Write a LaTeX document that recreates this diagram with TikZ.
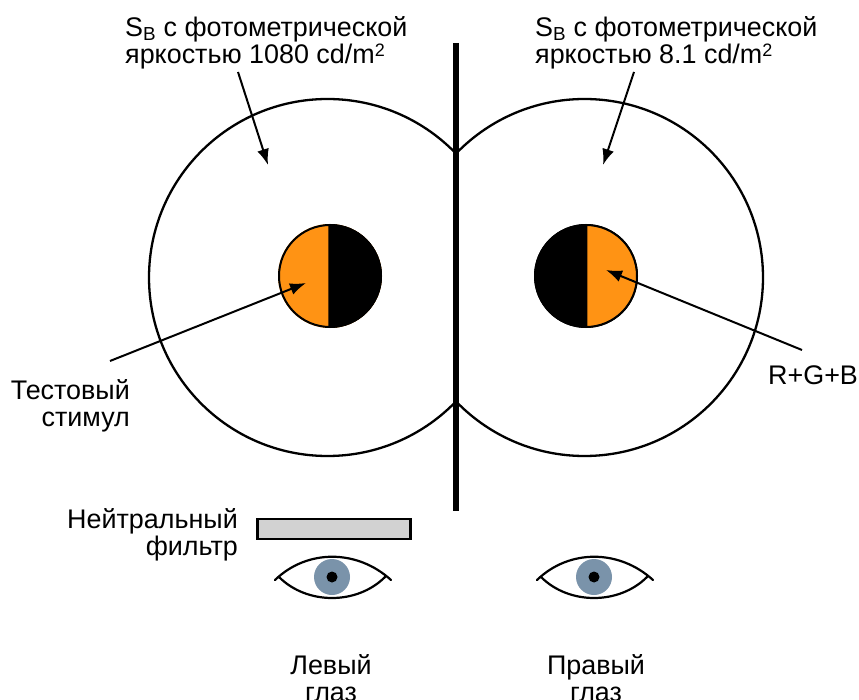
\documentclass[tikz,border=0pt]{standalone}
\usepackage{fontspec}
\setmainfont{Liberation Sans}
\usepackage{tikz}
\usetikzlibrary{arrows.meta,positioning,calc}
\definecolor{stimorange}{RGB}{255,147,20}
\definecolor{irisblue}{RGB}{122,147,170}
\definecolor{filtergray}{RGB}{210,210,210}
\newcommand{\supertwo}{\raisebox{6.5pt}{\fontsize{18pt}{18pt}\selectfont 2}}
\begin{document}
\begin{tikzpicture}[x=1pt,y=-1pt,
    font=\fontsize{26.9pt}{27pt}\selectfont,
    field/.style={line width=2.3pt},
    arrow/.style={-{Latex[length=16pt,width=12pt]},line width=2pt},
    label/.style={align=center,inner sep=0pt},
    eyeline/.style={line width=2.2pt,line cap=round}
]
\useasboundingbox (0,0) rectangle (859,700);
% fields
\begin{scope}
\clip (0,0) rectangle (456,700);
\draw[field] (327.5,277.5) circle (178.5);
\end{scope}
\begin{scope}
\clip (456,0) rectangle (859,700);
\draw[field] (584.5,277.5) circle (178.5);
\end{scope}
\draw[line width=6pt] (456,43) -- (456,511);
% stimuli
\fill[stimorange] (330,276) circle (52);
\begin{scope}
\clip (328.3,200) rectangle (400,350);
\fill[black] (330,276) circle (52);
\end{scope}
\draw[line width=2pt] (330,276) circle (51);
\fill[black] (586,276) circle (52);
\begin{scope}
\clip (587.3,200) rectangle (660,350);
\fill[stimorange] (586,276) circle (51);
\end{scope}
\draw[line width=2pt] (586,276) circle (51);
% labels
\node[label,align=left,anchor=west] (lefttitle) at (125,42.5) {S\textsubscript{B} с фотометрической\\яркостью 1080 cd/m\supertwo};
\node[label,align=left,anchor=west] (righttitle) at (535,42.5) {S\textsubscript{B} с фотометрической\\яркостью 8.1 cd/m\supertwo};
\node[label,align=right,anchor=east] (teststim) at (130,406) {Тестовый\\стимул};
\node[label,anchor=west] (rgb) at (768,375) {R+G+B};
\node[label,align=right,anchor=east] (ndfilter) at (238,535) {Нейтральный\\фильтр};
\node[label] (lefteye) at (331,678) {Левый\\глаз};
\node[label] (righteye) at (596,678) {Правый\\глаз};
% arrows
\coordinate (a1) at (238,72); \coordinate (a2) at (268,165);
\coordinate (b1) at (634,72); \coordinate (b2) at (603,165);
\coordinate (c1) at (110,361); \coordinate (c2) at (306,283);
\coordinate (d1) at (802,350); \coordinate (d2) at (606,270);
\draw[arrow] (a1) -- (a2);
\draw[arrow] (b1) -- (b2);
\draw[arrow] (c1) -- (c2);
\draw[arrow] (d1) -- (d2);
% filter
\node[draw,fill=filtergray,line width=2.5pt,minimum width=153pt,minimum height=20pt,inner sep=0pt] (filterbox) at (334,529) {};
% eyes
\foreach \cx in {332,594}{
  \draw[eyeline] (\cx-57,580) .. controls (\cx-25,549) and (\cx+25,549) .. (\cx+59,580);
  \draw[eyeline] (\cx-53,577) .. controls (\cx-25,605) and (\cx+25,605) .. (\cx+53,577);
  \fill[irisblue] (\cx,577) circle (18);
  \fill[black] (\cx,577) circle (5.5);
}
\end{tikzpicture}
\end{document}
